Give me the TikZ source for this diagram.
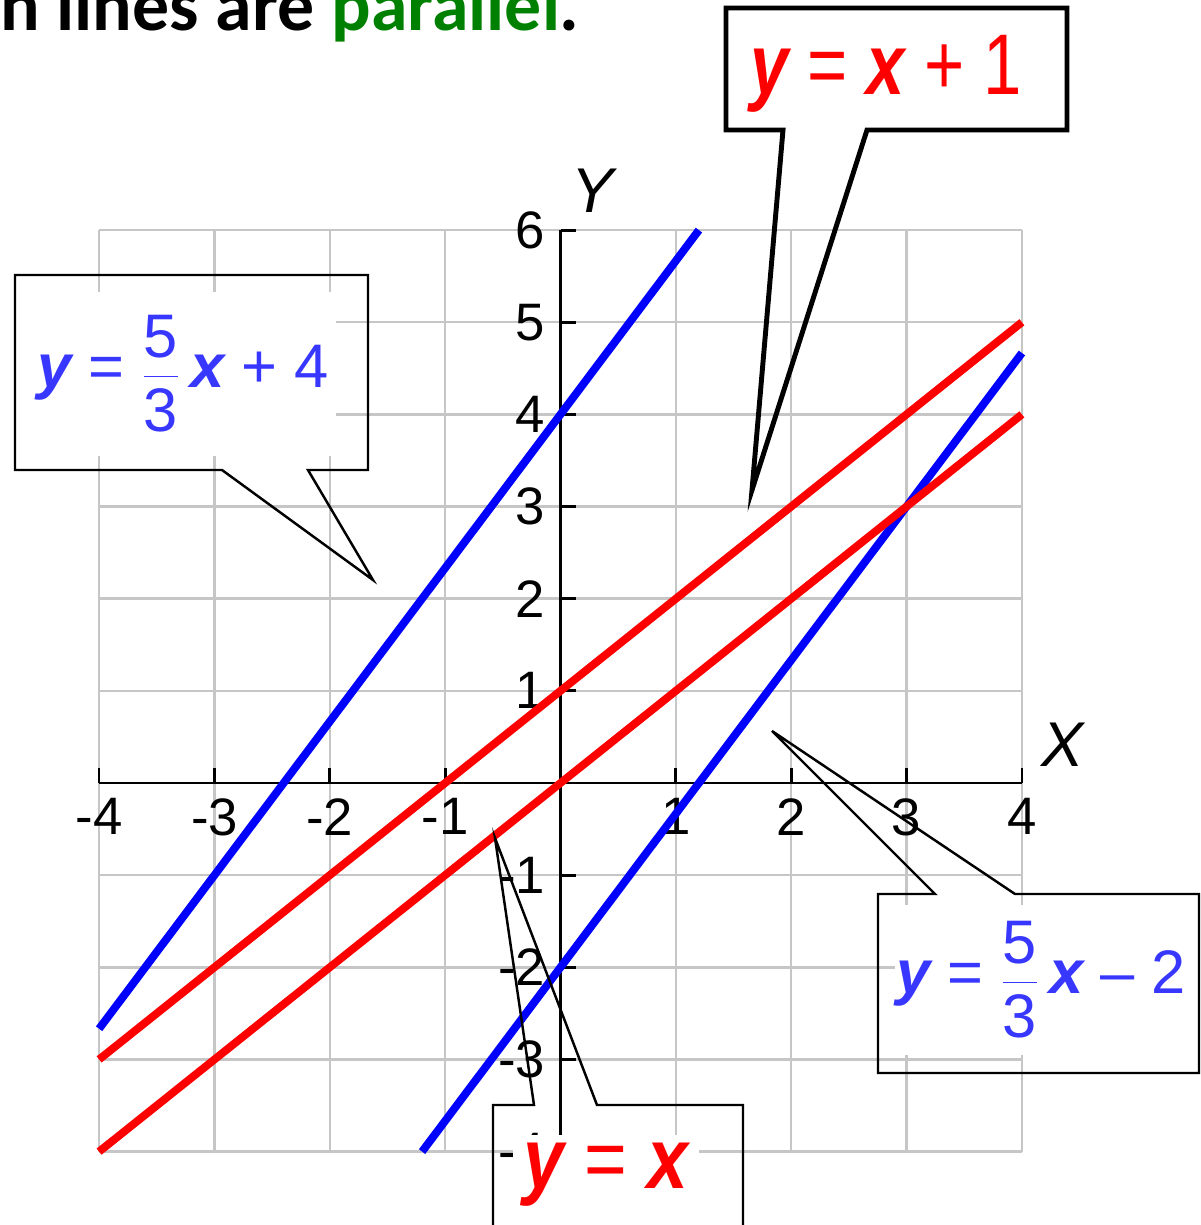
\documentclass[tikz,border=0pt]{standalone}
\usepackage{fontspec}
\usepackage{xcolor}
\usetikzlibrary{calc}
\setmainfont{Liberation Sans}
\newfontfamily\titlefont{Carlito}
\definecolor{eqblue}{RGB}{55,55,255}
\definecolor{titlegreen}{RGB}{0,128,0}
\newcommand{\fivethirds}{$\displaystyle\frac{\mbox{5}\rule[-9pt]{0pt}{9pt}}{\rule{0pt}{30pt}\mbox{3}}$\,}
\newcommand{\vy}{{\bfseries\itshape y}}
\newcommand{\vx}{{\bfseries\itshape x}}

\begin{document}
\begin{tikzpicture}[x=0.02cm, y=-0.02cm,
  gridline/.style={draw=gray!45, line width=1.4pt},
  axis/.style={draw=black, line width=1.6pt},
  ticklbl/.style={inner sep=0pt, font=\fontsize{30}{32}\selectfont},
  axlbl/.style={inner sep=0pt, font=\fontsize{36}{38}\selectfont\itshape},
  graphline/.style={line width=4.5pt, draw=#1},
  callout/.style={draw=black, line width=#1, line join=miter},
  callout/.default=1.4pt,
  eqbox/.style={fill=white, inner sep=0pt, text=#1}]
  \useasboundingbox (0,0) rectangle (1201,1225);
  \node[anchor=base west, inner sep=0pt, font=\titlefont\bfseries\fontsize{42}{44}\selectfont] (title) at (0,30)
    {n lines are \textcolor{titlegreen}{parallel}.};
  \coordinate (origin) at (560.5,783);
  % graph
  \begin{scope}[shift={(origin)}, x=2.3075cm, y=1.8434cm]
    \foreach \k in {-4,...,4} \draw[gridline] (\k,-4) -- (\k,6);
    \foreach \k in {-4,...,6} \draw[gridline] (-4,\k) -- (4,\k);
    \draw[axis] (-4,0) -- (4,0);
    \draw[axis] (0,-4) -- (0,6);
    \foreach \k in {-4,...,4} \draw[axis] (\k,0) -- ++(0,0.163);
    \foreach \k in {-4,...,6} \draw[axis] (0,\k) -- ++(0.13,0);
    \foreach \k in {-4,-3,-2,-1,1,2,3,4}
      \node[ticklbl, anchor=north, yshift=-0.3cm] (xl\k) at (\k,0) {\k};
    \foreach \k in {-4,-3,-2,-1,1,2,3,4,5,6}
      \node[ticklbl, anchor=east, xshift=-0.3cm] (yl\k) at (0,\k) {\k};
    \node[axlbl] (ylbl) at (0.275,6.43) {Y};
    \node[axlbl] (xlbl) at (4.35,0.41) {X};
    \draw[graphline=blue] (-4,-8/3) -- (1.2,6);
    \draw[graphline=blue] (-1.2,-4) -- (4,14/3);
    \draw[graphline=red] (-4,-3) -- (4,5);
    \draw[graphline=red] (-4,-4) -- (4,4);
  \end{scope}
  % callouts
  \coordinate (tipA) at (752,490);
  \coordinate (tipB) at (373,580);
  \coordinate (tipC) at (772,731);
  \coordinate (tipD) at (495,838);
  \draw[callout=2.8pt] (726,8) -- (1067,8) -- (1067,130) -- (867,130) -- (tipA) -- (783,130) -- (726,130) -- cycle;
  \draw[callout] (15,275) -- (368,275) -- (368,470) -- (308,470) -- (tipB) -- (222,470) -- (15,470) -- cycle;
  \draw[callout] (878,894) -- (935,894) -- (tipC) -- (1015,894) -- (1199,894) -- (1199,1073) -- (878,1073) -- cycle;
  \draw[callout] (493,1240) -- (493,1105) -- (534,1105) -- (tipD) -- (597,1105) -- (743,1105) -- (743,1240);
  \node[eqbox=red, font=\fontsize{49}{51}\selectfont] (eqA) at (886,74)
    {\scalebox{0.8}[1]{\vy\ = \vx\ + 1}};
  \node[eqbox=eqblue, minimum width=6.14cm, minimum height=3.3cm, font=\fontsize{35}{37}\selectfont] (eqB) at (183,374)
    {\vy\ = \fivethirds\vx\ + 4};
  \node[eqbox=eqblue, minimum width=5.86cm, minimum height=3.0cm, font=\fontsize{35}{37}\selectfont] (eqC) at (1041,980)
    {\vy\ = \fivethirds\vx\ -- 2};
  \node[eqbox=red, minimum width=3.74cm, minimum height=1.6cm, font=\fontsize{49}{51}\selectfont] (eqD) at (606,1175)
    {\scalebox{0.85}[1]{\vy\ = \vx}};
\end{tikzpicture}
\end{document}
